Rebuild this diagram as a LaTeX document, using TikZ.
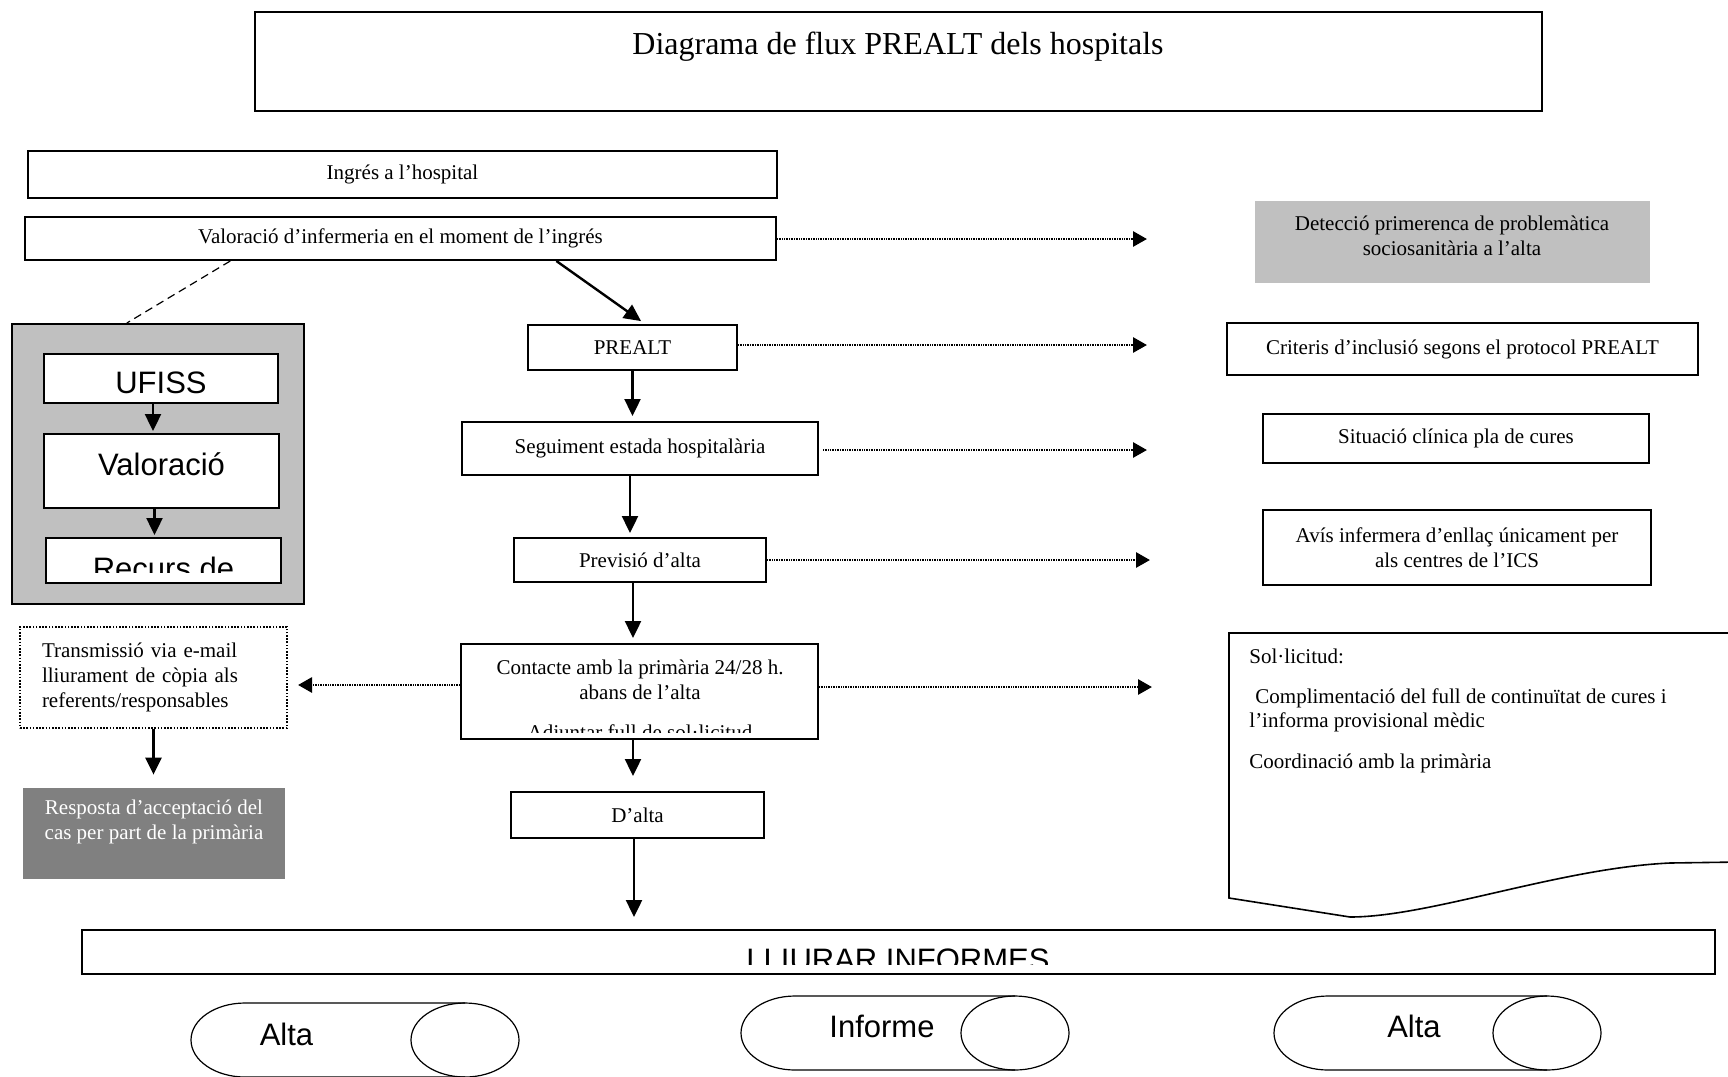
\documentclass[tikz,border=0pt]{standalone}
\usepackage{fontspec}
\setmainfont{Liberation Serif}
\setsansfont{Liberation Sans}
\usetikzlibrary{arrows.meta,calc}
\definecolor{lightgrey}{HTML}{C0C0C0}
\definecolor{darkgrey}{HTML}{808080}

\begin{document}
\begin{tikzpicture}[x=0.5pt, y=-0.5pt,
  box/.style={draw, line width=1pt, fill=white, inner sep=0pt, font=\fontsize{10.5}{12.5}\selectfont, align=center},
  sbox/.style={box, font=\sffamily\fontsize{15.5}{18}\selectfont},
  txt/.style={inner sep=0pt, font=\fontsize{10.5}{12.5}\selectfont, align=center},
  stxt/.style={inner sep=0pt, font=\sffamily\fontsize{15.5}{18}\selectfont},
  flow/.style={line width=1.2pt, -{Triangle[length=8.5pt,width=8pt]}},
  side/.style={line width=1.4pt, dash pattern=on 0.5pt off 0.35pt, -{Triangle[length=7pt,width=7.5pt]}},
  tube/.style={draw, line width=0.6pt}]
\clip (0,0) rectangle (1728,1076);

% title
\node[box, line width=1.3pt, minimum width=643.5pt, minimum height=49.5pt] (title) at (898.5,61.5) {};
\node[txt, font=\fontsize{16}{19}\selectfont] (titletext) at (898,47) {Diagrama de flux PREALT dels hospitals};

% left column
\node[box, minimum width=374.5pt, minimum height=23.5pt] (ingres) at (402.5,174.5) {Ingrés a l’hospital};
\node[box, minimum width=375.5pt, minimum height=21.5pt] (valinf) at (400.5,238.5) {Valoració d’infermeria en el moment de l’ingrés};

\node[draw, line width=1pt, fill=lightgrey, minimum width=146pt, minimum height=140pt] (ufissbox) at (158,464) {};
\node[sbox, minimum width=117pt, minimum height=24.5pt] (ufiss) at (161,378.5) {};
\node[stxt] (ufisstext) at (161,383) {UFISS};
\node[sbox, minimum width=117.5pt, minimum height=37pt] (valor) at (161.5,471) {};
\node[stxt] (valortext) at (161.5,464) {Valoració};
\node[sbox, minimum width=117.5pt, minimum height=22.5pt] (recurs) at (163.5,560.5) {};
\begin{scope}
  \clip (46,538) rectangle (281,572);
  \node[stxt, anchor=base] (recurstext) at (163.5,579) {Recurs de};
\end{scope}
\draw[flow, shorten >=1pt] ([xshift=-4pt]ufiss.south) -- ([xshift=-4pt]ufiss.south |- valor.north);
\draw[flow, shorten >=1pt] ([xshift=-3.5pt]valor.south) -- ([xshift=-3.5pt]valor.south |- recurs.north);
\draw[line width=0.6pt, dash pattern=on 4pt off 2.5pt] ($(valinf.south west)!0.274!(valinf.south east)$) -- ($(ufissbox.north west)!0.394!(ufissbox.north east)$);

% centre column
\node[box, minimum width=104.5pt, minimum height=22.5pt] (prealt) at (632.5,347.5) {PREALT};
\node[box, minimum width=178pt, minimum height=26.5pt] (seguiment) at (640,448.5) {Seguiment estada hospitalària};
\node[box, minimum width=126pt, minimum height=22pt] (previsio) at (640,560) {Previsió d’alta};
\node[box, minimum width=178.5pt, minimum height=47.5pt] (contacte) at (639.5,691.5) {};
\node[txt] (contactetext) at (640,680) {Contacte amb la primària 24/28 h.\\abans de l’alta};
\begin{scope}
  \clip (461,644) rectangle (818,732);
  \node[txt, anchor=base] (adjuntar) at (640,739) {Adjuntar full de sol·licitud};
\end{scope}
\node[box, minimum width=126.5pt, minimum height=23pt] (dalta) at (637.5,815) {D’alta};

\draw[flow, shorten >=2.5pt] ($(valinf.south west)!0.707!(valinf.south east)$) -- ($(prealt.north west)!0.56!(prealt.north east)$);
\draw[flow, shorten >=2.5pt] (prealt.south) -- (prealt.south |- seguiment.north);
\draw[flow, shorten >=2pt] ([xshift=-5pt]seguiment.south) -- ([xshift=-5pt]seguiment.south |- previsio.north);
\draw[flow, shorten >=2.5pt] ([xshift=-3.5pt]previsio.south) -- ([xshift=-3.5pt]previsio.south |- contacte.north);
\draw[flow, shorten >=7.5pt] ([xshift=-3.25pt]contacte.south) -- ([xshift=-3.25pt]contacte.south |- dalta.north);
\coordinate (lliurarin) at (634,917);
\draw[flow] (dalta.south -| lliurarin) -- (lliurarin);

% right column
\node[fill=lightgrey, minimum width=197.5pt, minimum height=41pt] (detect) at (1452.5,242) {};
\node[txt] (detecttext) at (1452,236) {Detecció primerenca de problemàtica\\sociosanitària a l’alta};
\node[box, minimum width=235.5pt, minimum height=26pt] (criteris) at (1462.5,349) {Criteris d’inclusió segons el protocol PREALT};
\node[box, minimum width=193pt, minimum height=24.5pt] (situacio) at (1456,438.5) {Situació clínica pla de cures};
\node[box, minimum width=194pt, minimum height=37.5pt] (avis) at (1457,547.5) {Avís infermera d’enllaç únicament per\\als centres de l’ICS};

\draw[line width=0.8pt, fill=white] (1740,633) -- (1229,633) -- (1229,898) -- (1350,917) .. controls (1430,917) and (1560,868) .. (1670,863) -- (1740,862);
\node[txt, anchor=base west] (sol1) at (1249,663) {Sol·licitud:};
\node[txt, anchor=base west] (sol2) at (1255,703) {Complimentació del full de continuïtat de cures i};
\node[txt, anchor=base west] (sol3) at (1249,727) {l’informa provisional mèdic};
\node[txt, anchor=base west] (sol4) at (1249,768) {Coordinació amb la primària};

\coordinate (detectin) at (1147,239);
\coordinate (criterisin) at (1147,345);
\coordinate (situacioin) at (1147,450);
\coordinate (avisin) at (1150,560);
\coordinate (solin) at (1152,687);
\coordinate (transin) at (298,685);
\draw[side] (valinf.east |- detectin) -- (detectin);
\draw[side] (prealt.east |- criterisin) -- (criterisin);
\draw[side, shorten <=2pt] (seguiment.east |- situacioin) -- (situacioin);
\draw[side] (previsio.east |- avisin) -- (avisin);
\draw[side] (contacte.east |- solin) -- (solin);
\draw[side] (contacte.west |- transin) -- (transin);

% lower left
\node[draw, line width=0.8pt, dash pattern=on 0.8pt off 0.8pt, minimum width=133.5pt, minimum height=50.5pt, text width=111.5pt, inner xsep=11pt, align=left, font=\fontsize{10.5}{12.5}\selectfont] (transmissio) at (153.5,677.5) {Transmissió via e-mail\\lliurament de còpia als\\referents/responsables};
\node[fill=darkgrey, minimum width=131pt, minimum height=45.5pt] (resposta) at (154,833.5) {};
\node[txt, text=white] (respostatext) at (154,822) {Resposta d’acceptació del\\cas per part de la primària};
\draw[flow, shorten >=6.5pt] (transmissio.south) -- (transmissio.south |- resposta.north);

% bottom
\node[box, minimum width=816.5pt, minimum height=22pt] (lliurar) at (898.5,952) {};
\begin{scope}
  \clip (82,930) rectangle (1715,964);
  \node[stxt, anchor=base] (lliurartext) at (898,970) {LLIURAR INFORMES};
\end{scope}

\draw[tube] (465,1003) -- (245,1003) arc (270:90:54 and 37) -- (465,1077);
\draw[tube] (465,1040) ellipse (54 and 37);
\node[stxt] (alta1) at (286.5,1034) {Alta};
\draw[tube] (1015,996) -- (795,996) arc (270:90:54 and 37) -- (1015,1070);
\draw[tube] (1015,1033) ellipse (54 and 37);
\node[stxt] (informe) at (882,1026) {Informe};
\draw[tube] (1547,996) -- (1328,996) arc (270:90:54 and 37) -- (1547,1070);
\draw[tube] (1547,1033) ellipse (54 and 37);
\node[stxt] (alta2) at (1414,1026) {Alta};
\end{tikzpicture}
\end{document}
